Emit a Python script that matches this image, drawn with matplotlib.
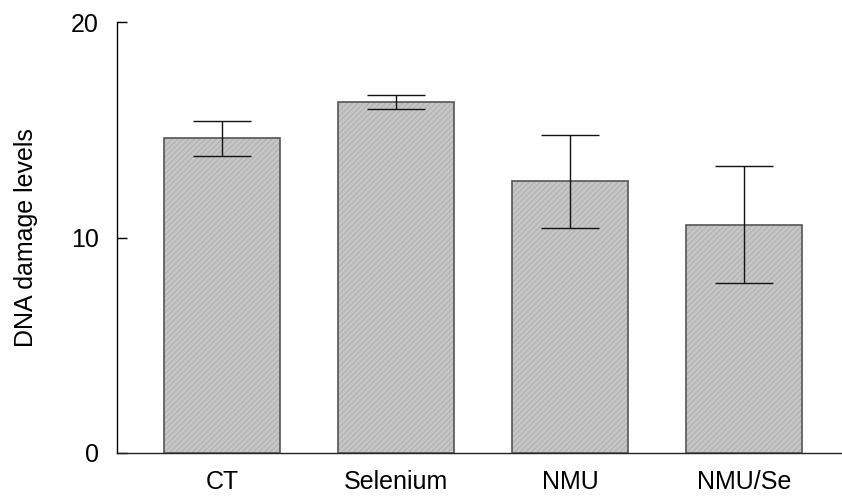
import matplotlib
matplotlib.use("Agg")
import matplotlib.pyplot as plt

categories = ["CT", "Selenium", "NMU", "NMU/Se"]
means = [14.6, 16.3, 12.6, 10.6]
errors = [0.8, 0.33, 2.15, 2.7]
yticks = [0, 10, 20]

plt.rcParams['font.family'] = ['Liberation Sans', 'DejaVu Sans']
plt.rcParams['hatch.linewidth'] = 0.6

fig = plt.figure(figsize=(8.42, 4.97), dpi=100)
ax = fig.add_axes([117/842, 1-453/497, 1-117/842, (453-22)/497])

x = list(range(len(categories)))
w = 0.667
ax.bar(x, means, width=w, color='#c6c6c6', edgecolor='#a9a9a9', hatch='//////', linewidth=0, zorder=2)
ax.bar(x, means, width=w, fill=False, edgecolor='#555555', linewidth=1.2, zorder=3)
ax.errorbar(x, means, yerr=errors, fmt='none', ecolor='#111111', elinewidth=1.0,
            capsize=21, capthick=1.0, zorder=4)

ax.set_xlim(-0.603, 3.563)
ax.set_ylim(0, 20)
ax.set_yticks(yticks)
ax.set_xticks(x)
ax.set_xticklabels(categories, fontsize=18)
ax.tick_params(axis='y', direction='in', length=7, width=1, pad=13, labelsize=18)
ax.tick_params(axis='x', length=0, pad=12)

for s in ['top', 'right']:
    ax.spines[s].set_visible(False)
ax.spines['left'].set_linewidth(1.0)
ax.spines['bottom'].set_linewidth(1.0)
ax.spines['bottom'].set_color('#222222')

ax.set_ylabel("DNA damage levels", fontsize=18, va='center')
ax.yaxis.set_label_coords(-0.1255, 0.5)

fig.savefig("out.png", dpi=100)
